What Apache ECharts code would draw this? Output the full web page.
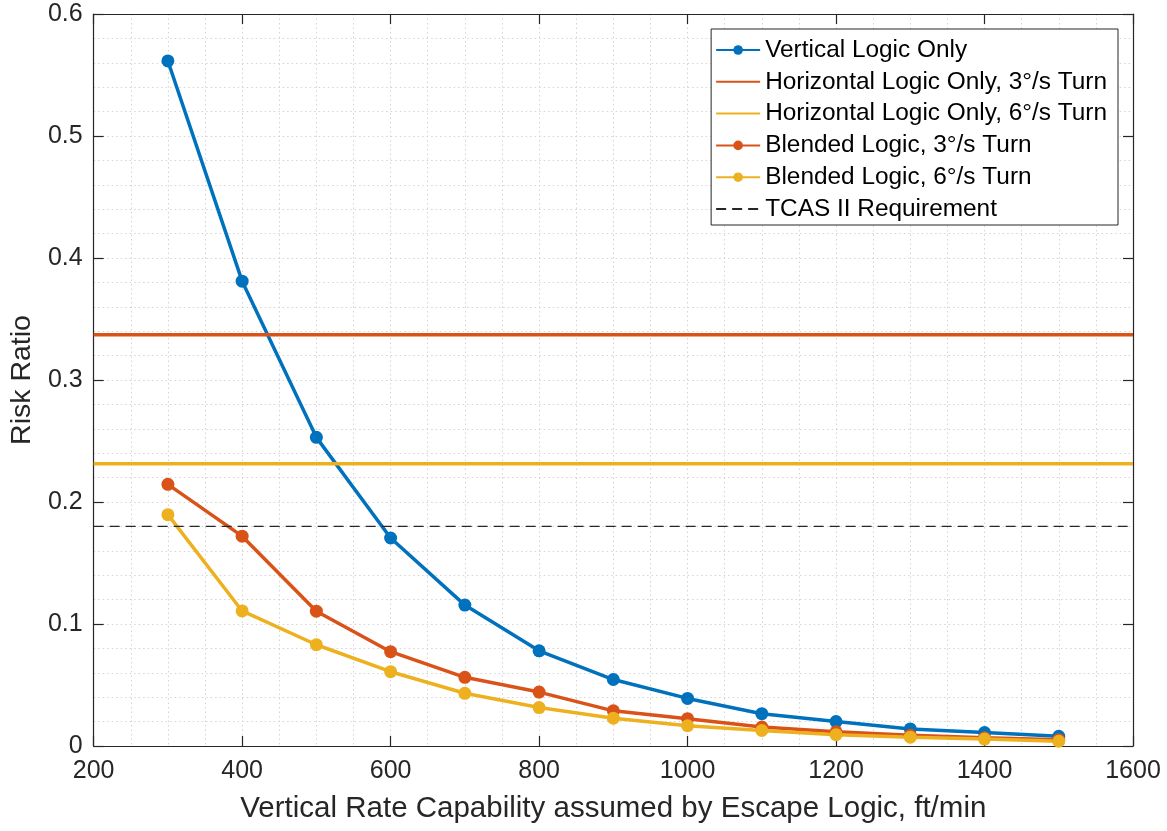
<!DOCTYPE html>
<html>
<head>
<meta charset="utf-8">
<script src="https://cdn.jsdelivr.net/npm/echarts@6/dist/echarts.min.js"></script>
<style>
  html, body { margin: 0; padding: 0; background: #fff; }
  #chart { width: 1167px; height: 831px; }
</style>
</head>
<body>
<div id="chart"></div>
<script>
// Vertical rate capability (ft/min)
const rates = [300, 400, 500, 600, 700, 800, 900, 1000, 1100, 1200, 1300, 1400, 1500];

// Risk ratio for each escape logic
const verticalOnly = [0.5615, 0.381, 0.253, 0.1705, 0.1155, 0.078, 0.0545, 0.039, 0.0265, 0.020, 0.014, 0.011, 0.008];
const blended3 = [0.2145, 0.172, 0.1105, 0.0773, 0.0563, 0.0442, 0.0288, 0.0224, 0.0155, 0.0117, 0.0088, 0.0067, 0.0052];
const blended6 = [0.1896, 0.1107, 0.083, 0.0609, 0.0432, 0.0315, 0.0228, 0.0166, 0.0127, 0.0093, 0.0072, 0.0057, 0.0039];

// Constant reference levels
const horizontal3 = 0.337;
const horizontal6 = 0.2314;
const tcasRequirement = 0.18;

// Axis ticks
const xTicks = [200, 400, 600, 800, 1000, 1200, 1400, 1600];
const yTicks = [0, 0.1, 0.2, 0.3, 0.4, 0.5, 0.6];

const seriesNames = [
  'Vertical Logic Only',
  'Horizontal Logic Only, 3°/s Turn',
  'Horizontal Logic Only, 6°/s Turn',
  'Blended Logic, 3°/s Turn',
  'Blended Logic, 6°/s Turn',
  'TCAS II Requirement'
];

const BLUE = '#0072BD', ORANGE = '#D95319', YELLOW = '#EDB120', INK = '#262626';
const FONT = "'Liberation Sans', Arial, Helvetica, sans-serif";

const xMin = xTicks[0], xMax = xTicks[xTicks.length - 1];
const yMin = yTicks[0], yMax = yTicks[yTicks.length - 1];
const xStep = xTicks[1] - xTicks[0];
const yStep = yTicks[1] - yTicks[0];

const pairs = vals => rates.map((r, i) => [r, vals[i]]);
const level = v => [[xMin, v], [xMax, v]];

const chart = echarts.init(document.getElementById('chart'), null, { renderer: 'canvas' });

const gridLine = { show: true, lineStyle: { color: '#d4d4d4', type: [1.5, 3], width: 1 } };

function baseX(pos, showLabels) {
  return {
    type: 'value', position: pos, min: xMin, max: xMax, interval: xStep,
    axisLine: { show: true, onZero: false, lineStyle: { color: INK, width: 1.2 } },
    axisTick: { show: true, inside: true, length: 10, lineStyle: { color: INK, width: 1.2 } },
    axisLabel: showLabels ? {
      show: true, color: INK, fontSize: 25, fontFamily: FONT, margin: 13,
      formatter: v => String(v)
    } : { show: false },
    splitLine: showLabels ? gridLine : { show: false },
    minorTick: { show: false, splitNumber: 4 },
    minorSplitLine: showLabels ? gridLine : { show: false }
  };
}

function baseY(pos, showLabels) {
  return {
    type: 'value', position: pos, min: yMin, max: yMax, interval: yStep,
    axisLine: { show: true, onZero: false, lineStyle: { color: INK, width: 1.2 } },
    axisTick: { show: true, inside: true, length: 10, lineStyle: { color: INK, width: 1.2 } },
    axisLabel: showLabels ? {
      show: true, color: INK, fontSize: 25, fontFamily: FONT, margin: 11,
      formatter: v => (Math.abs(v) < 1e-9 ? '0' : String(Math.round(v * 10) / 10))
    } : { show: false },
    splitLine: showLabels ? gridLine : { show: false },
    minorTick: { show: false, splitNumber: 5 },
    minorSplitLine: showLabels ? gridLine : { show: false }
  };
}

const xBottom = baseX('bottom', true);
xBottom.name = 'Vertical Rate Capability assumed by Escape Logic, ft/min';
xBottom.nameLocation = 'middle';
xBottom.nameGap = 48;
xBottom.nameTextStyle = { color: INK, fontSize: 29.5, fontFamily: FONT };

const yLeft = baseY('left', true);
yLeft.name = 'Risk Ratio';
yLeft.nameLocation = 'middle';
yLeft.nameGap = 54;
yLeft.nameTextStyle = { color: INK, fontSize: 28.5, fontFamily: FONT };

function markerLine(name, data, color) {
  return {
    name, type: 'line', xAxisIndex: 0, yAxisIndex: 0, data,
    symbol: 'circle', symbolSize: 13, showSymbol: true,
    itemStyle: { color },
    lineStyle: { color, width: 3.5 },
    emphasis: { disabled: true }, animation: false
  };
}

function flatLine(name, v, color, width, type) {
  return {
    name, type: 'line', xAxisIndex: 0, yAxisIndex: 0, data: level(v),
    symbol: 'none', showSymbol: false,
    itemStyle: { color },
    lineStyle: { color, width, type },
    emphasis: { disabled: true }, animation: false
  };
}

// Flat reference lines appear in the legend as plain line samples
const legendData = seriesNames.map((name, i) =>
  (i === 1 || i === 2 || i === 5) ? { name, itemStyle: { opacity: 0 } } : { name });

chart.setOption({
  animation: false,
  backgroundColor: '#ffffff',
  grid: { left: 88, right: 34, top: 14, bottom: 85, containLabel: false },
  xAxis: [xBottom, baseX('top', false)],
  yAxis: [yLeft, baseY('right', false)],
  legend: {
    data: legendData,
    orient: 'vertical',
    right: 49, top: 29,
    backgroundColor: '#ffffff',
    borderColor: INK, borderWidth: 1, borderRadius: 0,
    padding: [9, 11, 4, 4],
    itemWidth: 44, itemHeight: 12, itemGap: 7.8,
    textStyle: { color: '#000', fontSize: 24.4, fontFamily: FONT, lineHeight: 24 },
    selectedMode: false
  },
  series: [
    markerLine(seriesNames[0], pairs(verticalOnly), BLUE),
    flatLine(seriesNames[1], horizontal3, ORANGE, 3.5, 'solid'),
    flatLine(seriesNames[2], horizontal6, YELLOW, 3.5, 'solid'),
    markerLine(seriesNames[3], pairs(blended3), ORANGE),
    markerLine(seriesNames[4], pairs(blended6), YELLOW),
    flatLine(seriesNames[5], tcasRequirement, INK, 1.2, [10, 6])
  ]
});
</script>
</body>
</html>
